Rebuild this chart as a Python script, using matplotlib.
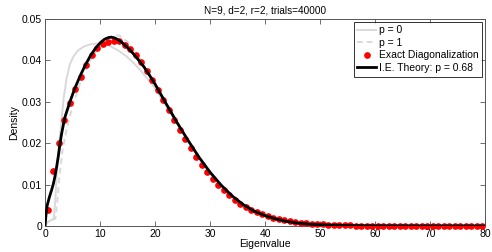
import matplotlib
matplotlib.use("Agg")
import matplotlib.pyplot as plt
import numpy as np

plt.rcParams['font.family'] = ['Liberation Sans', 'DejaVu Sans']

title = "N=9, d=2, r=2, trials=40000"
xlabel = "Eigenvalue"
ylabel = "Density"
xticks = [0, 10, 20, 30, 40, 50, 60, 70, 80]
yticks = [0, 0.01, 0.02, 0.03, 0.04, 0.05]
ytick_labels = ["0", "0.01", "0.02", "0.03", "0.04", "0.05"]

# p = 0 curve (light gray solid)
p0_x = [0, 0.3, 1.6, 1.9, 2.2, 2.6, 3.0, 3.4, 3.9, 4.5, 5.2, 6.0, 7.0, 8.0, 9.4, 10.6,
        11.8, 13.3, 14.9, 16.1, 17.3, 18.6, 20, 22, 24,
        26, 28, 30, 32, 34, 36, 38, 40, 44, 48, 55, 65, 80]
p0_y = [0, 0.0008, 0.0018, 0.0070, 0.0140, 0.0200, 0.0256, 0.0310, 0.0355, 0.0390,
        0.0410, 0.0424, 0.0433, 0.0438, 0.0441, 0.0440, 0.0435, 0.0424, 0.0409, 0.0394,
        0.0377, 0.0356, 0.0333, 0.0290, 0.0248, 0.0206, 0.0166, 0.0130, 0.0099,
        0.0073, 0.0052, 0.0036, 0.0025, 0.0011, 0.00045, 0.0001, 0.00003, 0.0]

# p = 1 curve (light gray dashed)
p1_x = [0, 0.4, 1.9, 2.3, 2.7, 3.2, 3.9, 5.0, 6.5, 8.5, 10.5, 12.5, 13.5, 15, 17, 19.5,
        22, 24, 26, 28, 30, 32, 34, 36, 38, 40, 44, 48, 55, 65, 80]
p1_y = [0, 0.0008, 0.0018, 0.0070, 0.0130, 0.0185, 0.0232, 0.0290, 0.0350, 0.0408, 0.0445,
        0.0461, 0.0460, 0.0445, 0.0410, 0.0355, 0.0297, 0.0252, 0.0208, 0.0167, 0.0130,
        0.0099, 0.0073, 0.0052, 0.0036, 0.0025, 0.0011, 0.00045, 0.0001, 0.00003, 0.0]

# Exact diagonalization (red dots) at bin centres
ed_x = [i + 0.5 for i in range(80)]
ed_y = [0.0039, 0.0133, 0.0200, 0.0255, 0.0298, 0.0330, 0.0361, 0.0388, 0.0413, 0.0429,
        0.0439, 0.0445, 0.0448, 0.0446, 0.0438, 0.0427, 0.0413, 0.0395, 0.0374, 0.0352,
        0.0328, 0.0304, 0.0280, 0.0256, 0.0233, 0.0210, 0.0188, 0.0167, 0.0148, 0.0130,
        0.0114, 0.0099, 0.0086, 0.0074, 0.0063, 0.0054, 0.0046, 0.0039, 0.0033, 0.0028,
        0.0024, 0.0020, 0.0017, 0.0014, 0.0012, 0.0010, 0.0008, 0.0007, 0.0006, 0.0005,
        0.0004, 0.0003, 0.0003, 0.0002, 0.0002, 0.0002, 0.0001, 0.0001, 0.0001, 0.0001,
        0.00008, 0.00007, 0.00006, 0.00005, 0.00004, 0.00003, 0.00003, 0.00002, 0.00002,
        0.00002, 0.00001, 0.00001, 0.00001, 0.00001, 0.0, 0.0, 0.0, 0.0, 0.0, 0.0]

# I.E. theory p = 0.68 (black)
ie_x = [0, 0.2, 0.4, 0.8, 1.2, 1.5, 1.8, 2.1, 2.4, 2.7, 3.0, 3.6, 4.5, 5.4, 6.4, 7.3, 8.2,
        9.1, 10, 10.8, 11.5, 12.0, 12.5, 13.0, 13.6, 14.2, 15, 16, 17, 18, 19, 20,
        22, 24, 26, 28, 30, 32, 34, 36, 38, 40, 42, 44, 46, 48, 50, 55, 60, 70, 80]
ie_y = [0, 0.0030, 0.0050, 0.0070, 0.0087, 0.0101, 0.0119, 0.0142, 0.0167, 0.0196, 0.0222,
        0.0262, 0.0299, 0.0332, 0.0363, 0.0388, 0.0410, 0.0428, 0.0442, 0.0451, 0.0455,
        0.0456, 0.0455, 0.0452, 0.0447, 0.0441, 0.0431, 0.0417, 0.0401, 0.0384, 0.0364,
        0.0343, 0.0296, 0.0250, 0.0207, 0.0166, 0.0130, 0.0099, 0.0073, 0.0052, 0.0036,
        0.0025, 0.0017, 0.0011, 0.0007, 0.00045, 0.0003, 0.0001, 0.00004, 0.00001, 0.0]

fig = plt.figure(figsize=(4.92, 2.52), dpi=100)
ax = fig.add_axes([0.0915, 0.1032, 0.8943, 0.8214])

ax.plot(p0_x, p0_y, color='#d9d9d9', lw=1.4, label='p = 0')
ax.plot(p1_x, p1_y, color='#d9d9d9', lw=1.4, ls=(0, (3, 2)), label='p = 1')
ax.plot(ed_x, ed_y, 'o', color='red', ms=3.8, mec='red', clip_on=False,
        label='Exact Diagonalization', zorder=3)
ax.plot(ie_x, ie_y, color='black', lw=2.0, label='I.E. Theory: p = 0.68', zorder=4)

ax.set_xlim(0, 80)
ax.set_ylim(0, 0.05)
ax.set_xticks(xticks)
ax.set_yticks(yticks)
ax.set_yticklabels(ytick_labels)
ax.tick_params(direction='in', length=3.5, width=0.6, color='#555555',
               top=True, right=True, labelsize=7.5, pad=2)
for s in ax.spines.values():
    s.set_color('#555555')
    s.set_linewidth(0.7)

ax.set_title(title, fontsize=7.2, pad=4)
ax.set_xlabel(xlabel, fontsize=7.5, labelpad=0)
ax.set_ylabel(ylabel, fontsize=7.5, labelpad=2)

leg = ax.legend(loc='upper right', fontsize=7.5, frameon=True, fancybox=False,
                edgecolor='black', handlelength=1.8, handletextpad=0.3,
                borderpad=0.35, labelspacing=0.25, borderaxespad=0.25)
leg.get_frame().set_linewidth(0.7)

fig.savefig('out.png', dpi=100)
